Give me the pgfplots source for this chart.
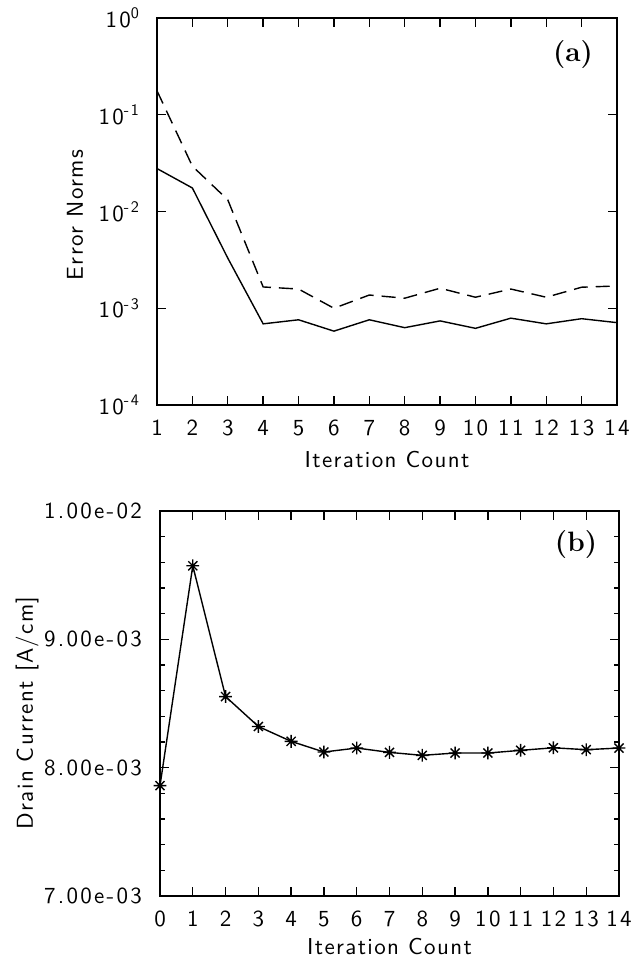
\documentclass[border=0pt]{standalone}
\usepackage{fontspec}
\usepackage{pgfplots}
\pgfplotsset{compat=1.18}
\newfontfamily\plotfont{lmsans10-regular.otf}[LetterSpace=6]
\newfontfamily\tickfont{lmsans10-regular.otf}[LetterSpace=10]

% eight-spoke star, as on the old plotter output
\pgfdeclareplotmark{star8}{%
  \pgfpathmoveto{\pgfpointpolar{0}{\pgfplotmarksize}}\pgfpathlineto{\pgfpointpolar{180}{\pgfplotmarksize}}%
  \pgfpathmoveto{\pgfpointpolar{90}{\pgfplotmarksize}}\pgfpathlineto{\pgfpointpolar{270}{\pgfplotmarksize}}%
  \pgfpathmoveto{\pgfpointpolar{45}{\pgfplotmarksize}}\pgfpathlineto{\pgfpointpolar{225}{\pgfplotmarksize}}%
  \pgfpathmoveto{\pgfpointpolar{135}{\pgfplotmarksize}}\pgfpathlineto{\pgfpointpolar{315}{\pgfplotmarksize}}%
  \pgfusepathqstroke}

\pgfplotsset{
  panel/.style={
    scale only axis,
    anchor=south west,
    axis line style={line width=0.8pt},
    every tick/.style={black, line width=0.7pt},
    major tick length=4.5pt,
    minor tick length=2.5pt,
    /pgf/number format/assume math mode=true,
    ticklabel style={font=\tickfont\fontsize{11.5}{13}\selectfont},
    xticklabel style={yshift=-4pt},
    xtick distance=1,
  },
}

\begin{document}
\begin{tikzpicture}
\path[use as bounding box] (0,0) rectangle (321.5pt,481.5pt);

% (a) error norms
\begin{axis}[panel,
  at={(78.5pt,279pt)}, width=230pt, height=193.5pt,
  xmin=1, xmax=14, xtick={1,...,14},
  ymode=log, ymin=1e-4, ymax=1,
  ytick={1e-4,1e-3,1e-2,1e-1,1},
  yticklabels={10\textsuperscript{-4},10\textsuperscript{-3},10\textsuperscript{-2},10\textsuperscript{-1},10\textsuperscript{0}},
  yminorticks=false,
  yticklabel style={xshift=-5pt},
]
\addplot[black, line width=0.7pt] coordinates {
  (1,0.0278) (2,0.0175) (3,0.0033) (4,0.00069) (5,0.00076) (6,0.00058)
  (7,0.00076) (8,0.00063) (9,0.00074) (10,0.00062) (11,0.00079)
  (12,0.00069) (13,0.00078) (14,0.00071)
};
\addplot[black, line width=0.7pt, dash pattern=on 7pt off 4pt] coordinates {
  (1,0.177) (2,0.0294) (3,0.0132) (4,0.00166) (5,0.00158) (6,0.00100)
  (7,0.00137) (8,0.00127) (9,0.00161) (10,0.00130) (11,0.00158)
  (12,0.00130) (13,0.00165) (14,0.00170)
};
\end{axis}

% (b) drain current
\begin{axis}[panel,
  at={(80pt,33.5pt)}, width=229.5pt, height=192.5pt,
  xmin=0, xmax=14, xtick={0,...,14},
  ymin=0.007, ymax=0.01,
  ytick={0.007,0.008,0.009,0.01},
  yticklabels={7.00e-03,8.00e-03,9.00e-03,1.00e-02},
  scaled y ticks=false,
  minor y tick num=4,
  yticklabel style={xshift=-5.5pt},
  clip=false,
]
\addplot[black, line width=0.7pt, mark=star8, mark size=3.2pt] coordinates {
  (0,0.00786) (1,0.009573) (2,0.008554) (3,0.008321) (4,0.008205)
  (5,0.008122) (6,0.008153) (7,0.008119) (8,0.008096) (9,0.008114)
  (10,0.008114) (11,0.008135) (12,0.008155) (13,0.008140) (14,0.008153)
};
\end{axis}

\begin{scope}[every node/.style={font=\plotfont\fontsize{11.5}{13}\selectfont}]
\node[rotate=90] at (37.5pt,374pt) {Error Norms};
\node[rotate=90] at (13.5pt,125pt) {Drain Current [A/cm]};
\node at (193.5pt,251.5pt) {Iteration Count};
\node at (194.75pt,8pt) {Iteration Count};
\end{scope}
\node[font=\fontsize{14}{16}\selectfont\bfseries] at (286.5pt,454pt) {(a)};
\node[font=\fontsize{14}{16}\selectfont\bfseries] at (288pt,209pt) {(b)};
\end{tikzpicture}
\end{document}
